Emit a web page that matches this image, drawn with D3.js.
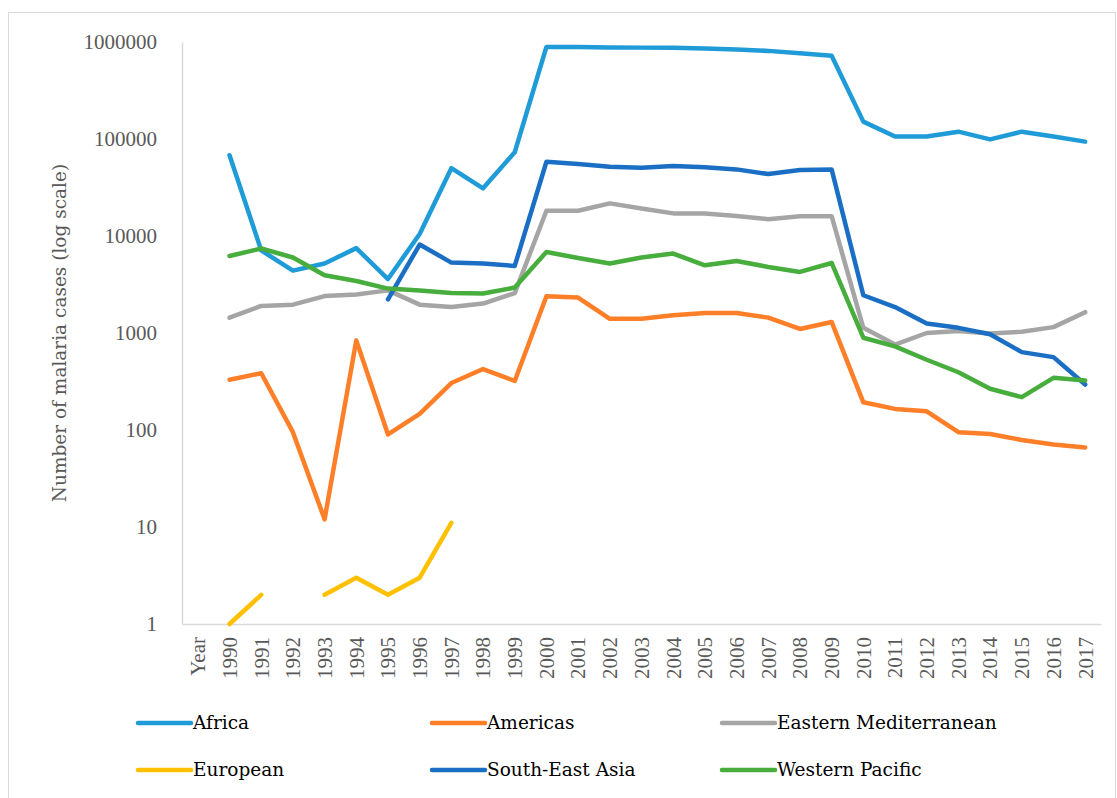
<html lang="en">
<head>
<meta charset="UTF-8">
<title>Malaria cases by WHO region</title>
<style>
  body { margin: 0; background: #fff; }
  svg { display: block; }
  svg text { font-family: "Liberation Serif", "DejaVu Serif", serif; }
  .tick text { fill: #595959; font-size: 21px; }
  .legend text { fill: #000; font-size: 18.5px; font-family: "DejaVu Serif", serif; }
  .ytitle { fill: #595959; font-size: 18.5px; font-family: "DejaVu Serif", serif; }
</style>
</head>
<body>
<svg id="chart"></svg>
<script src="https://cdnjs.cloudflare.com/ajax/libs/d3/7.8.5/d3.min.js"></script>
<script>
// years on the x axis (the source chart also carries a stray "Year" category first)
var years = ["1990","1991","1992","1993","1994","1995","1996","1997","1998","1999",
             "2000","2001","2002","2003","2004","2005","2006","2007","2008","2009",
             "2010","2011","2012","2013","2014","2015","2016","2017"];
var categories = ["Year"].concat(years);

var africa = [68000, 7100, 4400, 5200, 7500, 3600, 10500, 50000, 31000, 73000,
              890000, 890000, 880000, 875000, 870000, 855000, 835000, 810000, 765000, 720000,
              151000, 106000, 106000, 119000, 99000, 119000, 106000, 94000];
var americas = [330, 385, 95, 12, 840, 90, 147, 305, 425, 320,
                2390, 2320, 1400, 1400, 1520, 1610, 1610, 1440, 1100, 1300,
                193, 165, 156, 95, 91, 79, 71, 66];
var easternMed = [1440, 1900, 1960, 2400, 2500, 2750, 1960, 1850, 2010, 2580,
                  18200, 18200, 21700, 19200, 17100, 17100, 16100, 14900, 16000, 16000,
                  1130, 760, 1000, 1050, 990, 1030, 1150, 1640];
var european = [1, 2, null, 2, 3, 2, 3, 11, null, null,
                null, null, null, null, null, null, null, null, null, null,
                null, null, null, null, null, null, null, null];
var seAsia = [null, null, null, null, null, 2220, 8170, 5320, 5200, 4910,
              58300, 55200, 51800, 50500, 52600, 51000, 48600, 43500, 47800, 48600,
              2450, 1850, 1250, 1130, 970, 635, 564, 294];
var westPacific = [6230, 7430, 6000, 3940, 3440, 2870, 2750, 2580, 2550, 2940,
                   6850, 5940, 5200, 6000, 6590, 4990, 5530, 4800, 4260, 5270,
                   894, 727, 530, 394, 266, 218, 345, 324];

var seriesNames = ["Africa", "Americas", "Eastern Mediterranean", "European", "South-East Asia", "Western Pacific"];
var seriesValues = [africa, americas, easternMed, european, seAsia, westPacific];
var colours = ["#1f9bd7", "#fe7f27", "#a5a5a5", "#ffc000", "#1a6fc4", "#47ad3d"];

var yTicks = [1, 10, 100, 1000, 10000, 100000, 1000000];

var width = 1117, height = 798;
var plotLeft = 182, plotRight = 1101, plotTop = 42, plotBottom = 624;

var svg = d3.select("#chart").attr("width", width).attr("height", height);

// chart border
svg.append("rect")
  .attr("x", 8.5).attr("y", 12.5)
  .attr("width", 1107).attr("height", 800)
  .attr("fill", "none").attr("stroke", "#d9d9d9");

var x = d3.scaleBand().domain(categories).range([plotLeft, plotRight]);
var y = d3.scaleLog().domain([1, 1000000]).range([plotBottom, plotTop]);

function cx(i) { return x(years[i]) + x.bandwidth() / 2; }

// y axis
var yAxis = svg.append("g")
  .attr("transform", "translate(" + plotLeft + ",0)")
  .call(d3.axisLeft(y).tickValues(yTicks).tickFormat(d3.format("d")).tickSize(0).tickPadding(25));
yAxis.attr("font-family", null).attr("font-size", null);
yAxis.select(".domain").attr("stroke", "#d9d9d9").attr("stroke-width", 1.5);

// x axis
var xAxis = svg.append("g")
  .attr("transform", "translate(0," + plotBottom + ")")
  .call(d3.axisBottom(x).tickSize(0));
xAxis.attr("font-family", null).attr("font-size", null);
xAxis.select(".domain").attr("stroke", "#d9d9d9").attr("stroke-width", 1.5);
xAxis.selectAll(".tick text")
  .attr("transform", "rotate(-90)")
  .attr("x", -13).attr("y", 0).attr("dy", "0.35em")
  .style("text-anchor", "end");

// y axis title
svg.append("text")
  .attr("class", "ytitle")
  .attr("transform", "translate(66," + ((plotTop + plotBottom) / 2) + ") rotate(-90)")
  .attr("text-anchor", "middle")
  .text("Number of malaria cases (log scale)");

// lines
var line = d3.line()
  .defined(function(d) { return d != null; })
  .x(function(d, i) { return cx(i); })
  .y(function(d) { return y(d); });

seriesValues.forEach(function(vals, k) {
  svg.append("path")
    .datum(vals)
    .attr("d", line)
    .attr("fill", "none")
    .attr("stroke", colours[k])
    .attr("stroke-width", 4.5)
    .attr("stroke-linejoin", "round")
    .attr("stroke-linecap", "round");
});

// legend
var legendCols = [138, 432, 722], legendRows = [723, 770];
var legend = svg.append("g").attr("class", "legend");
seriesNames.forEach(function(name, k) {
  var lx = legendCols[k % 3], ly = legendRows[Math.floor(k / 3)];
  legend.append("line")
    .attr("x1", lx).attr("x2", lx + 53)
    .attr("y1", ly).attr("y2", ly)
    .attr("stroke", colours[k]).attr("stroke-width", 4.5)
    .attr("stroke-linecap", "round");
  legend.append("text")
    .attr("x", lx + 55).attr("y", ly).attr("dy", "0.35em")
    .text(name);
});
</script>
</body>
</html>
